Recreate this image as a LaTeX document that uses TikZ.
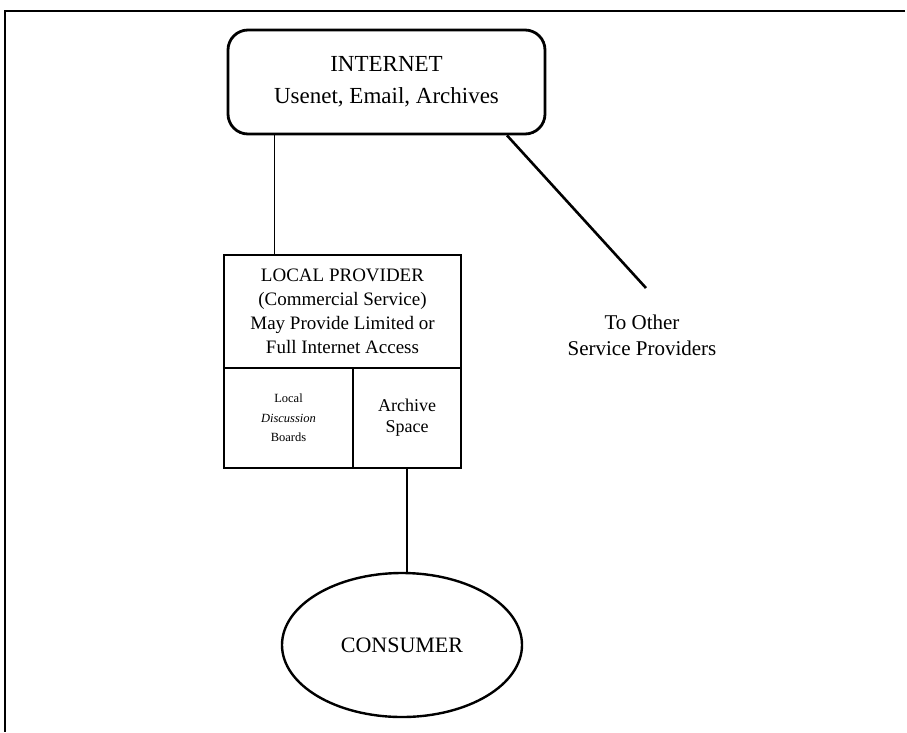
\documentclass[tikz,border=0pt]{standalone}
\usepackage{fontspec}
\setmainfont{Liberation Serif}
\usetikzlibrary{shapes.geometric}
\begin{document}
\begin{tikzpicture}[x=1pt,y=-1pt,
  boxline/.style={draw,line width=2.8pt},
  cell/.style={boxline,inner sep=0pt,align=center},
  link/.style={line width=2.6pt},
  thinlink/.style={line width=1.3pt}]
\useasboundingbox (0,0) rectangle (907,732);
% frame (top and left only)
\draw[line width=2.4pt] (905,11) -- (5,11) -- (5,732);
% Internet
\node[cell,rounded corners=20pt,minimum width=317pt,minimum height=104pt,
  font=\fontsize{23}{32}\selectfont] (inet) at (386.5,82)
  {INTERNET\\Usenet, Email, Archives};
% Local provider
\node[cell,minimum width=237pt,minimum height=113pt,
  font=\fontsize{19}{24}\selectfont] (lp) at (342.5,311.5)
  {LOCAL PROVIDER\\(Commercial Service)\\May Provide Limited or\\Full Internet Access};
\node[cell,minimum width=129pt,minimum height=100pt,
  font=\fontsize{12.5}{19.5}\selectfont] (ldb) at (288.5,418)
  {Local\\\textit{Discussion}\\Boards};
\node[cell,minimum width=108pt,minimum height=100pt,
  font=\fontsize{18}{21}\selectfont] (arch) at (407,418)
  {Archive\\Space};
% Consumer
\node[ellipse,draw,line width=2.4pt,minimum width=240pt,minimum height=144pt,
  inner sep=0pt,font=\fontsize{22}{26}\selectfont] (cons) at (402,645) {CONSUMER};
% other providers label
\node[align=center,font=\fontsize{21}{26}\selectfont] (other) at (642,335)
  {To Other\\Service Providers};
\coordinate (otherend) at (646,288);
% connectors
\draw[thinlink] ([xshift=52pt]lp.north west) -- ([xshift=52pt]lp.north west |- inet.south);
\draw[link] ([xshift=120.5pt]inet.south) -- (otherend);
\draw[link] (arch.south) -- (arch.south |- cons.north);
\end{tikzpicture}
\end{document}
